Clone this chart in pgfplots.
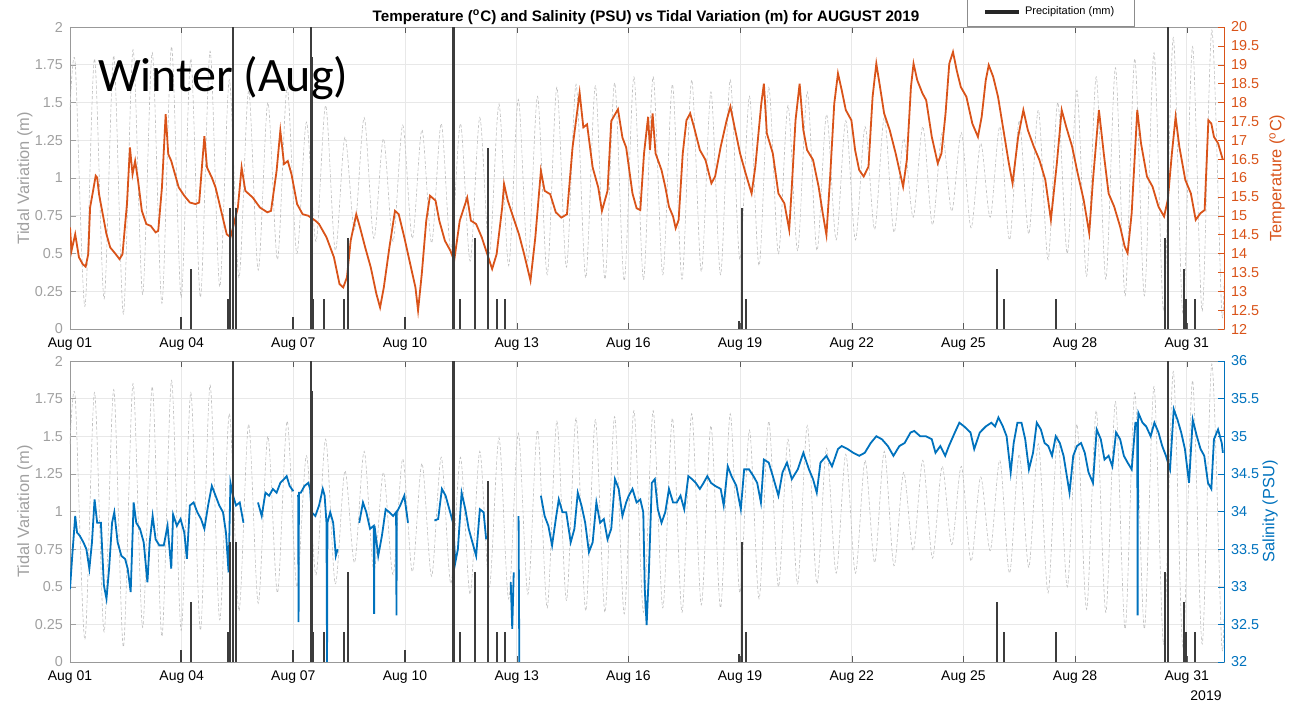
\documentclass[border=0pt]{standalone}
\usepackage{fontspec}
\setmainfont{Liberation Sans}
\newfontfamily\carlito{Carlito}
\usepackage{pgfplots}
\usepackage{pgfplotstable}
\pgfplotsset{compat=1.18}

\definecolor{tempc}{RGB}{217,83,25}
\definecolor{salc}{RGB}{0,114,189}
\definecolor{tidegray}{RGB}{160,160,160}
\definecolor{tidel}{RGB}{190,190,190}
\definecolor{precc}{RGB}{60,60,60}

% tide: alternating high / low water (m)
\pgfplotstableread{
t h
0.000 1.45
0.140 1.76
0.399 0.15
0.658 1.79
0.916 0.20
1.175 1.81
1.434 0.10
1.693 1.85
1.951 0.23
2.210 1.83
2.469 0.17
2.728 1.87
2.986 0.21
3.245 1.79
3.504 0.21
3.763 1.84
4.021 0.28
4.280 1.65
4.539 0.34
4.798 1.58
5.056 0.39
5.315 1.50
5.574 0.46
5.833 1.60
6.091 0.50
6.350 1.37
6.609 0.58
6.868 1.48
7.126 0.52
7.385 1.27
7.644 0.66
7.903 1.40
8.161 0.60
8.420 1.26
8.679 0.58
8.938 1.35
9.196 0.60
9.455 1.32
9.714 0.57
9.973 1.36
10.231 0.52
10.490 1.36
10.749 0.45
11.008 1.40
11.266 0.50
11.525 1.49
11.784 0.42
12.043 1.52
12.301 0.45
12.560 1.54
12.819 0.36
13.078 1.60
13.336 0.41
13.595 1.62
13.854 0.34
14.113 1.61
14.371 0.33
14.630 1.63
14.889 0.32
15.148 1.67
15.406 0.33
15.665 1.67
15.924 0.36
16.183 1.62
16.441 0.33
16.700 1.65
16.959 0.38
17.218 1.57
17.476 0.36
17.735 1.65
17.994 0.46
18.253 1.54
18.511 0.42
18.770 1.60
19.029 0.50
19.288 1.48
19.546 0.52
19.805 1.57
20.064 0.52
20.323 1.42
20.581 0.59
20.840 1.38
21.099 0.59
21.358 1.34
21.616 0.66
21.875 1.40
22.134 0.64
22.393 1.26
22.651 0.74
22.910 1.34
23.169 0.69
23.428 1.30
23.686 0.78
23.945 1.30
24.204 0.67
24.463 1.23
24.721 0.74
24.980 1.34
25.239 0.59
25.498 1.38
25.756 0.63
26.015 1.45
26.274 0.46
26.533 1.50
26.791 0.50
27.050 1.58
27.309 0.35
27.568 1.67
27.826 0.33
28.085 1.73
28.344 0.22
28.603 1.79
28.861 0.22
29.120 1.83
29.379 0.12
29.638 1.93
29.896 0.10
30.155 1.87
30.414 0.12
30.673 1.98
30.931 0.15
31.000 0.30
}\tide

% precipitation, drawn on the tide scale
\pgfplotstableread{
t p
2.99 0.08
3.24 0.40
4.25 0.20
4.31 0.80
4.37 2.00
4.45 0.80
6.00 0.08
6.47 2.00
6.50 1.80
6.54 0.20
6.82 0.20
7.35 0.20
7.48 0.60
9.01 0.08
10.29 2.00
10.32 2.00
10.48 0.20
10.88 0.60
11.22 1.20
11.48 0.20
11.68 0.20
17.98 0.05
18.05 0.80
18.17 0.20
24.90 0.40
25.08 0.20
26.50 0.20
29.42 0.60
29.50 2.00
29.93 0.40
29.96 0.20
29.99 0.20
30.22 0.20
}\precip

\pgfplotstableread{
t T
0.00 14.69
0.04 14.07
0.14 14.51
0.24 13.90
0.34 13.72
0.42 13.65
0.49 13.98
0.54 15.22
0.62 15.66
0.69 16.06
0.73 16.01
0.78 15.57
0.88 15.04
0.98 14.51
1.08 14.16
1.23 13.98
1.33 13.85
1.41 13.98
1.53 15.31
1.61 16.81
1.68 16.10
1.75 16.45
1.83 15.92
1.93 15.13
2.05 14.78
2.17 14.73
2.30 14.56
2.37 14.60
2.47 15.75
2.57 17.69
2.64 16.63
2.72 16.45
2.82 16.10
2.92 15.75
3.07 15.53
3.22 15.35
3.37 15.31
3.47 15.35
3.55 16.37
3.61 17.11
3.68 16.28
3.81 16.01
3.91 15.75
4.06 15.13
4.21 14.51
4.31 14.43
4.38 14.69
4.51 15.22
4.61 16.28
4.71 15.66
4.91 15.48
5.10 15.22
5.30 15.09
5.40 15.13
5.55 16.19
5.65 17.25
5.75 16.37
5.85 16.45
5.95 16.10
6.10 15.31
6.25 15.04
6.40 15.00
6.59 14.87
6.69 14.78
6.89 14.43
7.09 13.90
7.24 13.19
7.34 13.10
7.44 13.37
7.54 14.34
7.69 15.04
7.79 14.69
7.93 14.16
8.08 13.63
8.23 12.93
8.33 12.57
8.43 13.10
8.58 14.16
8.73 15.13
8.83 15.04
8.98 14.43
9.18 13.54
9.28 13.10
9.35 12.49
9.45 13.46
9.57 14.87
9.67 15.53
9.82 15.40
9.92 14.87
10.07 14.34
10.22 14.07
10.32 13.81
10.47 14.87
10.67 15.48
10.77 14.87
10.91 14.78
11.06 14.43
11.21 13.98
11.34 13.59
11.46 13.98
11.61 15.22
11.66 15.84
11.76 15.40
11.91 14.95
12.06 14.51
12.20 13.98
12.37 13.28
12.50 14.43
12.65 16.19
12.75 15.66
12.90 15.57
13.05 15.09
13.20 14.95
13.35 15.04
13.50 16.81
13.69 18.26
13.79 17.34
13.89 17.42
14.04 16.28
14.19 15.75
14.29 15.13
14.44 15.66
14.54 17.51
14.72 17.82
14.84 17.07
14.94 16.81
15.11 15.59
15.22 15.20
15.32 15.15
15.42 16.65
15.53 17.62
15.58 16.74
15.65 17.71
15.73 16.65
15.89 16.21
15.99 15.77
16.09 15.24
16.20 14.98
16.27 14.67
16.35 14.89
16.46 16.65
16.56 17.53
16.66 17.71
16.76 17.36
16.92 16.74
17.07 16.48
17.23 15.86
17.33 16.04
17.48 16.83
17.64 17.53
17.74 17.89
17.85 17.36
18.00 16.65
18.15 16.12
18.31 15.59
18.41 16.30
18.57 17.97
18.64 18.50
18.72 17.18
18.88 16.65
19.03 15.59
19.19 15.33
19.32 14.63
19.39 15.77
19.49 17.53
19.60 18.50
19.70 17.27
19.80 16.74
19.96 16.48
20.11 15.77
20.22 15.07
20.32 14.49
20.42 16.04
20.53 17.97
20.63 18.77
20.73 18.33
20.84 17.80
20.99 17.53
21.09 16.74
21.20 16.21
21.32 16.04
21.45 16.30
21.56 18.15
21.66 19.03
21.76 18.41
21.87 17.71
22.02 17.27
22.18 16.65
22.28 16.21
22.38 15.77
22.48 16.48
22.59 18.41
22.66 19.03
22.76 18.59
22.90 18.24
23.00 18.06
23.15 17.09
23.31 16.39
23.41 16.65
23.52 17.71
23.62 19.03
23.72 19.34
23.82 18.85
23.93 18.41
24.08 18.15
24.24 17.44
24.39 17.09
24.49 17.62
24.60 18.59
24.68 18.99
24.80 18.68
24.93 18.15
25.06 17.36
25.22 16.39
25.32 15.86
25.47 17.09
25.61 17.80
25.73 17.27
25.89 16.83
26.04 16.48
26.20 15.95
26.35 14.89
26.51 16.39
26.64 17.80
26.76 17.36
26.92 16.83
27.07 16.12
27.23 15.42
27.38 14.54
27.48 15.95
27.64 17.80
27.77 16.65
27.90 15.59
28.05 15.24
28.21 14.71
28.33 14.19
28.41 14.01
28.52 15.07
28.67 17.80
28.77 16.92
28.93 16.04
29.08 15.77
29.24 15.24
29.39 14.98
29.49 15.42
29.60 16.65
29.70 17.62
29.80 16.83
29.96 15.95
30.11 15.59
30.24 14.89
30.37 15.07
30.48 15.15
30.58 17.53
30.66 17.44
30.73 17.09
30.84 16.92
30.97 16.48
}\temp

\pgfplotstableread{
t S
0.00 32.97
0.06 33.41
0.14 33.94
0.19 33.72
0.26 33.68
0.36 33.59
0.44 33.50
0.52 33.24
0.59 33.59
0.66 34.16
0.73 33.85
0.83 33.85
0.91 33.02
0.98 32.84
1.05 33.24
1.13 33.85
1.19 33.99
1.28 33.59
1.38 33.41
1.48 33.37
1.55 33.24
1.63 32.93
1.71 34.12
1.78 33.85
1.88 33.77
1.98 33.59
2.08 33.06
2.14 33.59
2.22 33.94
2.30 33.63
2.40 33.55
2.52 33.55
2.62 33.81
2.72 33.24
2.77 33.96
2.87 33.81
2.97 33.90
3.07 33.72
3.14 33.37
3.22 34.08
3.32 34.12
3.42 33.99
3.52 33.90
3.61 33.77
3.71 34.08
3.81 34.34
3.91 34.21
4.01 34.08
4.11 33.99
4.19 33.72
4.26 33.19
4.31 34.38
4.38 34.21
4.46 34.08
4.56 34.12
4.66 33.85
nan nan
5.05 34.12
5.15 33.94
5.25 34.25
5.35 34.21
5.45 34.30
5.55 34.25
5.65 34.38
5.75 34.43
5.82 34.47
5.90 34.34
6.00 34.27
nan nan
6.10 34.21
6.13 34.21
6.14 32.53
6.15 34.25
6.20 34.25
6.30 34.34
6.40 34.38
6.45 34.30
6.49 33.99
6.59 33.94
6.69 34.08
6.79 34.30
6.84 34.21
6.89 33.85
6.905 32.00
6.915 33.85
6.99 33.99
7.07 33.85
7.14 33.41
7.19 33.50
nan nan
7.77 33.85
7.87 34.12
7.96 33.99
8.06 33.77
8.16 33.81
8.17 32.64
8.18 33.81
8.28 33.41
8.38 33.68
8.48 34.03
8.58 33.99
8.68 33.94
8.76 33.99
8.77 32.62
8.78 33.99
8.87 34.08
8.98 34.21
9.08 33.85
nan nan
9.79 33.88
9.89 33.90
9.99 34.30
10.09 34.21
10.19 34.03
10.29 33.85
10.35 33.32
10.42 33.50
10.52 34.25
10.62 34.03
10.71 33.77
10.81 33.59
10.91 33.41
11.01 34.03
11.11 33.99
11.18 33.63
nan nan
11.84 33.06
11.88 32.44
11.92 33.19
nan nan
12.05 33.94
12.07 32.00
nan nan
12.65 34.21
12.75 33.94
12.85 33.81
12.95 33.55
13.05 33.90
13.13 34.16
13.23 33.99
13.33 33.99
13.45 33.59
13.55 33.77
13.64 34.25
13.74 34.08
13.84 33.85
13.94 33.46
14.04 33.59
14.14 34.12
14.24 33.85
14.34 33.90
14.44 33.63
14.54 33.77
14.64 34.43
14.74 34.30
14.84 33.94
14.94 34.12
15.01 34.21
15.11 34.30
15.22 34.12
15.32 34.16
15.40 33.99
15.44 32.97
15.49 32.49
15.55 33.19
15.63 34.38
15.71 34.43
15.79 34.03
15.89 33.85
15.99 33.99
16.09 34.30
16.20 34.12
16.30 34.12
16.40 34.21
16.50 34.03
16.61 34.47
16.71 34.43
16.81 34.38
16.92 34.30
17.02 34.38
17.12 34.47
17.22 34.38
17.33 34.34
17.48 34.30
17.56 34.08
17.67 34.60
17.77 34.47
17.90 34.34
18.02 34.03
18.11 34.56
18.24 34.56
18.36 34.47
18.46 34.38
18.56 34.12
18.64 34.69
18.77 34.65
18.88 34.47
19.03 34.21
19.14 34.52
19.26 34.65
19.39 34.43
19.55 34.56
19.70 34.78
19.85 34.56
19.96 34.43
20.06 34.25
20.16 34.65
20.32 34.74
20.47 34.60
20.63 34.83
20.73 34.87
20.89 34.83
21.04 34.78
21.20 34.74
21.35 34.78
21.51 34.91
21.66 35.00
21.81 34.96
21.97 34.87
22.12 34.74
22.28 34.87
22.42 34.91
22.58 35.05
22.68 35.07
22.84 35.00
22.99 35.00
23.15 34.96
23.25 34.78
23.38 34.87
23.51 34.74
23.61 34.87
23.77 35.05
23.89 35.18
24.02 35.13
24.19 35.05
24.29 34.83
24.44 35.05
24.60 35.13
24.75 35.18
24.85 35.13
24.94 35.25
25.06 35.13
25.16 35.00
25.27 34.52
25.35 34.91
25.45 35.18
25.56 35.18
25.66 34.96
25.76 34.56
25.87 34.78
25.97 35.18
26.08 35.09
26.18 34.91
26.28 34.87
26.38 34.74
26.48 35.00
26.59 34.91
26.69 34.74
26.85 34.25
26.95 34.74
27.05 34.87
27.16 34.91
27.26 34.78
27.36 34.52
27.48 34.38
27.58 35.09
27.69 34.96
27.79 34.69
27.90 34.74
28.00 34.60
28.10 35.05
28.21 34.96
28.31 34.74
28.41 34.65
28.52 34.56
28.62 35.18
28.67 35.18
28.68 32.62
28.69 35.18
28.70 35.31
28.81 35.18
28.91 35.13
29.03 35.00
29.13 35.18
29.24 35.05
29.34 34.87
29.44 34.74
29.55 34.56
29.65 35.36
29.75 35.22
29.85 35.05
29.95 34.83
30.06 34.38
30.16 35.22
30.27 35.00
30.37 34.83
30.47 34.74
30.57 34.38
30.66 34.30
30.73 34.96
30.84 35.09
30.94 34.91
30.97 34.78
}\sal

\pgfplotsset{
  panel/.style={width=577pt, height=151pt, scale only axis,
    xmin=0, xmax=31,
    /pgf/number format/assume math mode=true,
    tick label style={font=\fontsize{7.2}{8}\selectfont},
    label style={font=\fontsize{8.2}{9}\selectfont},
    tick align=inside, major tick length=3pt},
  leftax/.style={panel, ymin=0, ymax=2,
    ytick={0,0.25,0.5,0.75,1,1.25,1.5,1.75,2},
    xtick={0,3,...,30},
    xticklabels={Aug 01,Aug 04,Aug 07,Aug 10,Aug 13,Aug 16,Aug 19,Aug 22,Aug 25,Aug 28,Aug 31},
    xtick pos=both, xticklabel pos=bottom, ytick pos=left,
    axis line style={black!40},
    ytick style={tidegray}, xtick style={black!65},
    yticklabel style={tidegray},
    xticklabel style={font=\fontsize{7}{8}\selectfont, black, yshift=-1pt},
    grid=major, major grid style={black!9, line width=0.3pt},
    ylabel={Tidal Variation (m)},
    ylabel style={tidegray, at={([xshift=-22.5pt]rel axis cs:0,0.5)}, anchor=center}},
  rightax/.style={panel, axis y line*=right, axis x line=none},
  precax/.style={panel, ymin=0, ymax=2, hide axis},
  tideline/.style={tidel, line width=0.3pt, dash pattern=on 1.6pt off 1pt, smooth},
  precbar/.style={ycomb, precc, line width=1pt, no markers},
}

\begin{document}
\begin{tikzpicture}
\path[use as bounding box] (0,0) rectangle (650.5pt,-352.5pt);

% ---------- top panel: temperature ----------
\begin{axis}[leftax, at={(35pt,-13.5pt)}, anchor=north west]
\addplot[tideline] table[x=t,y=h] {\tide};
\end{axis}
\begin{axis}[rightax, at={(35pt,-13.5pt)}, anchor=north west,
  ymin=12, ymax=20, ytick={12,12.5,...,20},
  y axis line style={tempc}, ytick style={tempc}, yticklabel style={tempc},
  ylabel={Temperature (\textsuperscript{o}C)},
  ylabel style={tempc, at={([xshift=26.5pt]rel axis cs:1,0.5)}, anchor=center}]
\addplot[tempc, line width=0.9pt] table[x=t,y=T] {\temp};
\end{axis}
\begin{axis}[precax, at={(35pt,-13.5pt)}, anchor=north west,
  legend style={at={(0.777,1)}, anchor=south west, draw=black!45,
    font=\fontsize{5.5}{6}\selectfont, inner xsep=8pt, inner ysep=2.5pt},
  legend cell align=left]
\addplot[precbar, forget plot] table[x=t,y=p] {\precip};
\addlegendimage{legend image code/.code={\draw[line width=2pt, black!85] (0pt,0pt) -- (17pt,0pt);}}
\addlegendentry{Precipitation (mm)}
\end{axis}

% ---------- bottom panel: salinity ----------
\begin{axis}[leftax, at={(35pt,-180.5pt)}, anchor=north west, height=150.5pt]
\addplot[tideline] table[x=t,y=h] {\tide};
\end{axis}
\begin{axis}[rightax, at={(35pt,-180.5pt)}, anchor=north west, height=150.5pt,
  ymin=32, ymax=36, ytick={32,32.5,...,36},
  y axis line style={salc}, ytick style={salc}, yticklabel style={salc},
  ylabel={Salinity (PSU)},
  ylabel style={salc, at={([xshift=23pt]rel axis cs:1,0.5)}, anchor=center}]
\addplot[salc, line width=0.9pt, unbounded coords=jump] table[x=t,y=S] {\sal};
\end{axis}
\begin{axis}[precax, at={(35pt,-180.5pt)}, anchor=north west, height=150.5pt]
\addplot[precbar] table[x=t,y=p] {\precip};
\end{axis}

% ---------- text ----------
\node[anchor=base, font=\bfseries\fontsize{7.6}{8}\selectfont] at (323pt,-10.8pt)
  {Temperature (\textsuperscript{o}C) and Salinity (PSU) vs Tidal Variation (m) for AUGUST 2019};
\node[anchor=base west, font=\carlito\fontsize{24}{26}\selectfont] at (45.5pt,-46pt) {Winter (Aug)};
\node[anchor=base, font=\fontsize{7}{8}\selectfont] at (603pt,-350pt) {2019};
\end{tikzpicture}
\end{document}
